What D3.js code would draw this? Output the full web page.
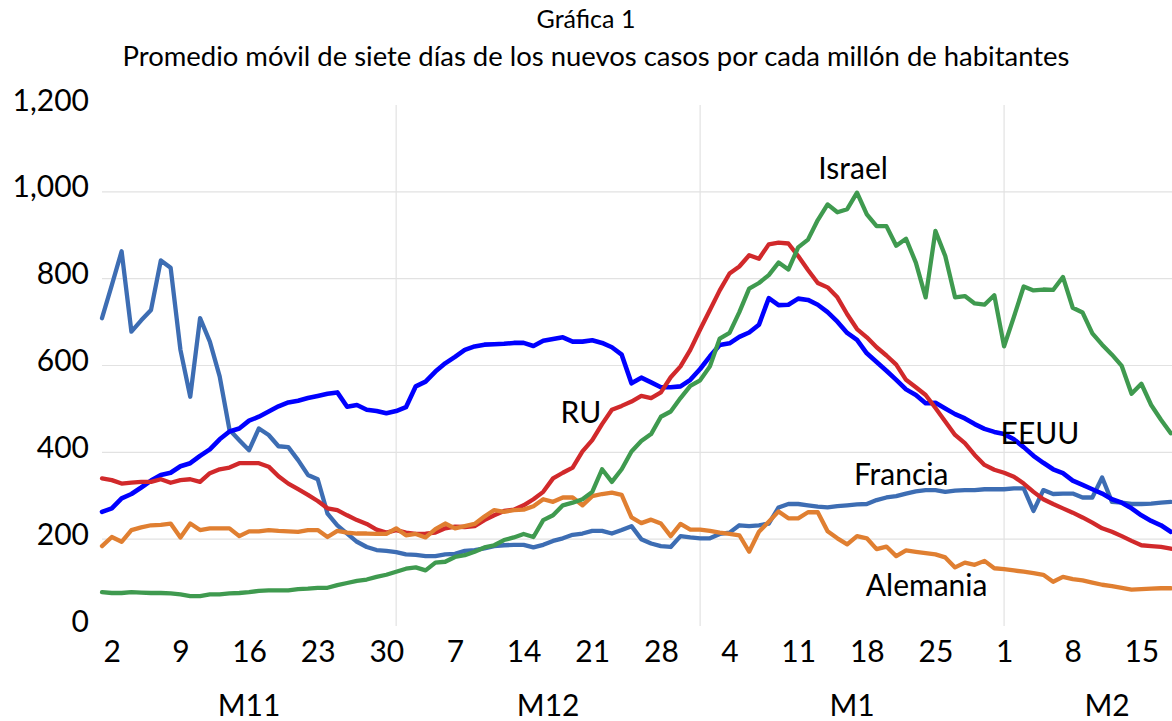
<!DOCTYPE html>
<html>
<head>
<meta charset="utf-8">
<script src="https://cdn.jsdelivr.net/npm/d3@7"></script>
<style>
  html, body { margin: 0; padding: 0; background: #fff; }
  svg { display: block; font-family: Lato, "Noto Sans", sans-serif; }
</style>
</head>
<body>
<svg id="chart" width="1172" height="721"></svg>
<script>
// ---------------- DATA ----------------
const titleLines = ["Gráfica 1", "Promedio móvil de siete días de los nuevos casos por cada millón de habitantes"];
const startDate = "2020-11-01";          // first daily observation
const axisEndDate = "2021-02-22";        // end of the date axis (beyond visible frame)
const monthLabels = ["M11", "M12", "M1", "M2"];
const monthStarts = ["2020-11-01", "2020-12-01", "2021-01-01", "2021-02-01"];
const xTickDates = ["2020-11-02","2020-11-09","2020-11-16","2020-11-23","2020-11-30",
                    "2020-12-07","2020-12-14","2020-12-21","2020-12-28",
                    "2021-01-04","2021-01-11","2021-01-18","2021-01-25",
                    "2021-02-01","2021-02-08","2021-02-15"];
const yTickValues = [0, 200, 400, 600, 800, 1000, 1200];
const seriesNames = ["Francia", "EEUU", "RU", "Alemania", "Israel"];

const francia = [709,785,863,678,704,728,842,825,636,528,709,655,575,452,428,405,455,440,414,412,
  382,348,338,259,232,213,194,182,175,173,170,165,164,161,161,165,166,173,175,179,
  184,186,187,187,181,187,196,202,210,213,219,219,213,221,230,200,190,184,182,207,
  204,202,202,212,215,232,230,232,236,273,281,281,278,275,273,276,278,280,281,290,
  296,299,305,310,313,313,309,312,313,313,315,315,315,317,317,265,313,304,305,305,
  296,296,342,286,284,281,281,282,284,286];
const eeuu = [263,271,294,304,319,335,348,353,368,375,392,407,430,448,455,473,482,494,506,515,
  519,525,530,535,538,505,509,498,495,490,495,504,552,563,586,605,620,636,644,648,
  649,650,652,652,645,657,661,665,655,655,658,652,642,625,559,572,561,550,550,552,
  567,592,621,647,651,666,676,694,755,739,740,754,751,740,723,701,675,659,628,608,
  588,567,545,532,513,514,501,488,478,465,454,447,442,430,412,392,376,361,352,335,
  325,315,305,292,284,271,255,242,232,217];
const ru = [340,336,328,330,332,332,338,330,336,338,332,352,361,365,375,375,375,367,345,328,
  315,302,288,271,267,255,244,235,222,215,221,215,212,213,215,225,229,228,230,244,
  255,265,268,278,292,309,340,353,365,402,428,465,498,507,517,530,525,538,573,598,
  636,683,728,773,812,828,854,846,879,883,881,852,820,790,780,757,718,684,665,642,
  623,602,567,550,532,502,471,440,421,394,371,360,353,344,328,309,292,281,271,261,
  250,238,225,217,207,196,186,184,182,178];
const alemania = [184,205,194,221,227,232,233,236,204,236,221,225,225,225,207,218,218,221,219,218,
  217,221,221,205,219,215,213,213,212,212,225,209,212,204,223,236,225,230,235,252,
  267,263,267,268,276,292,286,296,296,278,299,304,307,302,250,237,245,236,207,235,
  222,222,219,215,212,209,171,217,240,264,248,248,262,262,218,202,188,207,202,177,
  183,161,174,171,168,165,158,135,146,141,150,133,131,128,125,122,118,102,113,108,
  105,100,95,92,88,84,85,86,87,87];
const israel = [78,76,76,78,77,76,76,75,73,69,69,73,73,75,76,78,81,82,82,82,
  85,86,88,88,94,99,104,107,113,118,125,132,135,128,146,148,159,163,171,181,
  186,198,204,212,205,244,255,278,284,292,309,361,332,361,402,426,442,482,494,525,
  553,566,598,662,675,723,777,790,808,837,821,872,890,935,971,953,960,998,948,921,
  921,876,892,837,757,910,852,757,760,743,740,762,644,712,782,773,775,774,804,733,
  722,674,648,625,599,535,558,509,475,444];

// ---------------- STYLE / LAYOUT ----------------
const W = 1172, H = 721;
const plotLeft = 102, plotRightAxisEnd = 1210, plotTop = 105, plotBottom = 626;
const colors = { Francia: "#3d6db3", EEUU: "#0000ff", RU: "#d1292b", Alemania: "#e07f31", Israel: "#3f9a4f" };
const widths = { Francia: 4.3, EEUU: 4.6, RU: 4.3, Alemania: 4.3, Israel: 4.3 };
const labelFont = 30;

const parse = d3.utcParse("%Y-%m-%d");
const t0 = parse(startDate);
const seriesValues = { Francia: francia, EEUU: eeuu, RU: ru, Alemania: alemania, Israel: israel };

const x = d3.scaleUtc().domain([t0, parse(axisEndDate)]).range([plotLeft, plotRightAxisEnd]);
const y = d3.scaleLinear().domain([0, 1200]).range([plotBottom, plotTop]);

const svg = d3.select("#chart");

// gridlines
const gy = svg.append("g");
gy.selectAll("line").data(yTickValues.filter(v => v > 0 && v < 1200)).join("line")
  .attr("x1", plotLeft).attr("x2", W)
  .attr("y1", d => y(d)).attr("y2", d => y(d))
  .attr("stroke", "#e2e2e2").attr("stroke-width", 1.2);
const gx = svg.append("g");
gx.selectAll("line").data(monthStarts.slice(1).map(parse)).join("line")
  .attr("x1", d => x(d)).attr("x2", d => x(d))
  .attr("y1", plotTop).attr("y2", plotBottom)
  .attr("stroke", "#e2e2e2").attr("stroke-width", 1.2);

// lines
const line = d3.line()
  .x((d, i) => x(d3.utcDay.offset(t0, i)))
  .y(d => y(d));
seriesNames.forEach(name => {
  svg.append("path")
    .datum(seriesValues[name])
    .attr("fill", "none")
    .attr("stroke", colors[name])
    .attr("stroke-width", widths[name])
    .attr("stroke-linejoin", "round")
    .attr("stroke-linecap", "round")
    .attr("d", line);
});

// y axis
const yAxis = d3.axisLeft(y).tickValues(yTickValues).tickFormat(d3.format(",")).tickSize(0).tickPadding(13);
const yg = svg.append("g").attr("transform", `translate(${plotLeft},0)`).call(yAxis);
yg.select(".domain").remove();
yg.selectAll("text").attr("dy", null).attr("y", 5)
  .attr("font-size", labelFont).attr("font-family", "Lato, sans-serif").attr("fill", "#000");

// x axis
const xAxis = d3.axisBottom(x).tickValues(xTickDates.map(parse)).tickFormat(d3.utcFormat("%-d")).tickSize(0);
const xg = svg.append("g").attr("transform", `translate(0,${plotBottom})`).call(xAxis);
xg.select(".domain").remove();
xg.selectAll("text").attr("dy", null).attr("y", 36)
  .attr("font-size", labelFont).attr("font-family", "Lato, sans-serif").attr("fill", "#000");

// month labels
const monthEnds = monthStarts.slice(1).concat([axisEndDate]);
svg.append("g").selectAll("text").data(monthLabels).join("text")
  .attr("x", (d, i) => (x(parse(monthStarts[i])) + x(parse(monthEnds[i]))) / 2)
  .attr("y", 716)
  .attr("text-anchor", "middle")
  .attr("font-size", labelFont)
  .attr("fill", "#000")
  .text(d => d);

// series labels (anchored in data coordinates: day offset, value)
const seriesLabelAnchors = {
  Israel: [76.6, 1030], RU: [48.85, 467], EEUU: [95.66, 419], Francia: [81.5, 325], Alemania: [84.1, 69]
};
seriesNames.forEach(name => {
  const [dd, vv] = seriesLabelAnchors[name];
  svg.append("text")
    .attr("x", x(new Date(t0.getTime() + dd * 864e5)))
    .attr("y", y(vv))
    .attr("text-anchor", "middle")
    .attr("font-size", labelFont)
    .attr("fill", "#000")
    .text(name);
});

// title
svg.append("text").attr("x", 586).attr("y", 28).attr("text-anchor", "middle")
  .attr("font-size", 25).attr("fill", "#000").text(titleLines[0]);
const t2 = svg.append("text").attr("x", 596).attr("y", 66).attr("text-anchor", "middle")
  .attr("font-size", 24).attr("fill", "#000").text(titleLines[1]);
const targetW = 947;
const w2 = t2.node().getComputedTextLength();
if (w2 > 0) t2.attr("font-size", 24 * targetW / w2);
</script>
</body>
</html>
